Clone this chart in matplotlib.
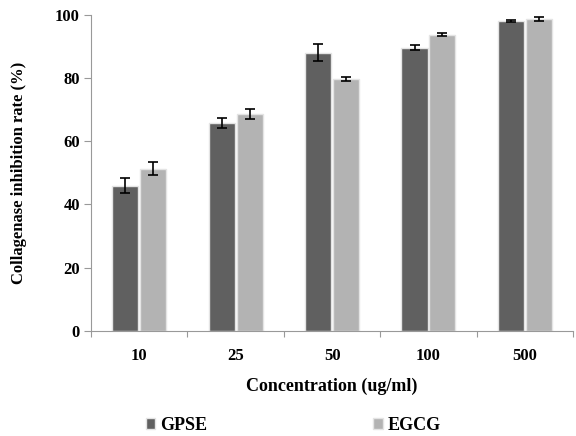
import numpy as np
import matplotlib
matplotlib.use('Agg')
import matplotlib.pyplot as plt

categories = ['10', '25', '50', '100', '500']
gpse = [45.9, 65.8, 88.0, 89.6, 98.1]
gpse_err = [2.4, 1.5, 2.7, 0.8, 0.4]
egcg = [51.3, 68.7, 79.7, 93.7, 98.7]
egcg_err = [2.0, 1.6, 0.6, 0.4, 0.6]

plt.rcParams['font.family'] = ['Liberation Serif', 'DejaVu Serif']
plt.rcParams['font.weight'] = 'bold'

fig = plt.figure(figsize=(5.76, 4.36), dpi=100)
ax = fig.add_axes([0.158, 0.241, 0.837, 0.725])

x = np.arange(len(categories))
w = 0.27
ekw = dict(elinewidth=1.2, capthick=1.2, ecolor='black')
ax.bar(x - w / 2 - 0.01, gpse, w, yerr=gpse_err, color='#606060',
       edgecolor='#e4e4e4', linewidth=1, capsize=3.5, error_kw=ekw, label='GPSE')
ax.bar(x + w / 2 + 0.01, egcg, w, yerr=egcg_err, color='#b3b3b3',
       edgecolor='#e4e4e4', linewidth=1, capsize=3.5, error_kw=ekw, label='EGCG')

ax.set_xlim(-0.5, 4.5)
ax.set_ylim(0, 100)
ax.set_yticks([0, 20, 40, 60, 80, 100])
ax.set_xticks(np.arange(-0.5, 5, 1.0))
ax.set_xticklabels([])
ax.set_xticks(x, minor=True)
ax.set_xticklabels(categories, minor=True, fontsize=12, fontweight='bold')
ax.tick_params(axis='x', which='minor', length=0, pad=12)
ax.tick_params(axis='x', which='major', length=4, color='#999999', direction='out')
ax.tick_params(axis='y', length=5, color='#999999', labelsize=12, pad=3)
for lab in ax.get_yticklabels():
    lab.set_fontweight('bold')

for s in ['top', 'right']:
    ax.spines[s].set_visible(False)
for s in ['left', 'bottom']:
    ax.spines[s].set_color('#999999')

ax.set_xlabel('Concentration (ug/ml)', fontsize=13, fontweight='bold', labelpad=10)
ax.set_ylabel('Collagenase inhibition rate (%)', fontsize=12, fontweight='bold')
ax.yaxis.set_label_coords(-0.133, 0.5)

fig.legend(loc='center', bbox_to_anchor=(0.509, 0.025), ncol=2, frameon=False,
           fontsize=13, handlelength=0.55, handleheight=0.55, handletextpad=0.25,
           columnspacing=9.2, borderpad=0)

fig.savefig('out.png', dpi=100)
